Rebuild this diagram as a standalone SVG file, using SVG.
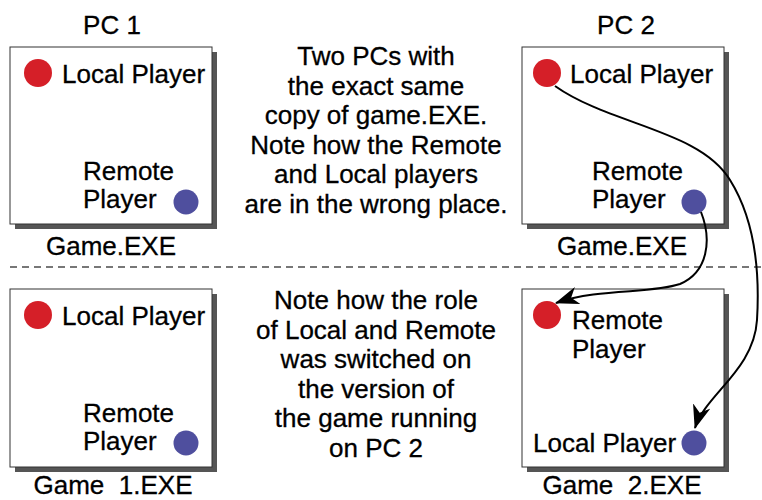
<svg xmlns="http://www.w3.org/2000/svg" width="762" height="500" viewBox="0 0 762 500">
  <style>
    text { font-family: "Liberation Sans", Arial, sans-serif; font-size: 26px; fill: #000; stroke: #000; stroke-width: 0.3; }
    .mid { text-anchor: middle; }
    .pre { white-space: pre; }
    .shadow { fill: #555; }
    .box { fill: #fff; stroke: #333; stroke-width: 1; }
    .red { fill: #d51f28; }
    .blue { fill: #4f4f9e; }
    .divider { stroke: #777; stroke-width: 2; stroke-dasharray: 7 5; fill: none; }
    .link { fill: none; stroke: #000; stroke-width: 2; }
  </style>
  <defs>
    <marker id="arrow" viewBox="0 0 24 18" refX="23" refY="9" markerWidth="24" markerHeight="18" markerUnits="userSpaceOnUse" orient="auto">
      <path d="M24,9 L0,0 L7,9 L0,18 Z" fill="#000"/>
    </marker>
  </defs>

  <rect width="762" height="500" fill="#fff"/>

  <!-- column headings -->
  <text class="mid" x="112" y="34">PC 1</text>
  <text class="mid" x="626" y="34">PC 2</text>

  <!-- PC 1, original executable -->
  <g id="pc1-game">
    <rect class="shadow" x="15" y="52" width="202" height="177"/>
    <rect class="box" x="10" y="47" width="202" height="177"/>
    <circle class="red" cx="38" cy="73" r="14"/>
    <text x="62" y="83">Local Player</text>
    <text x="83" y="180">Remote</text>
    <text x="83" y="208">Player</text>
    <circle class="blue" cx="186" cy="202" r="12.5"/>
    <text class="mid" x="111" y="255">Game.EXE</text>
  </g>

  <!-- PC 2, original executable -->
  <g id="pc2-game">
    <rect class="shadow" x="527" y="52" width="202" height="177"/>
    <rect class="box" x="522" y="47" width="202" height="177"/>
    <circle id="pc2-local" class="red" cx="547" cy="73" r="14"/>
    <text x="570" y="83">Local Player</text>
    <text x="592" y="180">Remote</text>
    <text x="592" y="208">Player</text>
    <circle id="pc2-remote" class="blue" cx="694" cy="202" r="12.5"/>
    <text class="mid" x="622" y="255">Game.EXE</text>
  </g>

  <!-- upper explanation -->
  <g id="note-top">
    <text class="mid" x="376" y="65">Two PCs with</text>
    <text class="mid" x="376" y="95">the exact same</text>
    <text class="mid" x="376" y="124">copy of game.EXE.</text>
    <text class="mid" x="376" y="154">Note how the Remote</text>
    <text class="mid" x="376" y="183">and Local players</text>
    <text class="mid" x="376" y="213">are in the wrong place.</text>
  </g>

  <line class="divider" x1="10" y1="267" x2="762" y2="267"/>

  <!-- PC 1, corrected executable -->
  <g id="pc1-game1">
    <rect class="shadow" x="15" y="294" width="202" height="178"/>
    <rect class="box" x="10" y="289" width="202" height="178"/>
    <circle class="red" cx="38" cy="315" r="14"/>
    <text x="62" y="325">Local Player</text>
    <text x="83" y="422">Remote</text>
    <text x="83" y="450">Player</text>
    <circle class="blue" cx="186" cy="443" r="12.5"/>
    <text class="mid pre" x="113" y="494">Game  1.EXE</text>
  </g>

  <!-- PC 2, corrected executable -->
  <g id="pc2-game2">
    <rect class="shadow" x="527" y="294" width="202" height="178"/>
    <rect class="box" x="522" y="289" width="202" height="178"/>
    <circle class="red" cx="547" cy="315" r="14"/>
    <text x="572" y="329">Remote</text>
    <text x="572" y="358">Player</text>
    <text x="533" y="452">Local Player</text>
    <circle class="blue" cx="694" cy="443" r="12.5"/>
    <text class="mid pre" x="622" y="494">Game  2.EXE</text>
  </g>

  <!-- lower explanation -->
  <g id="note-bottom">
    <text class="mid" x="376" y="309">Note how the role</text>
    <text class="mid" x="376" y="339">of Local and Remote</text>
    <text class="mid" x="376" y="368">was switched on</text>
    <text class="mid" x="376" y="398">the version of</text>
    <text class="mid" x="376" y="427">the game running</text>
    <text class="mid" x="376" y="457">on PC 2</text>
  </g>

  <!-- role swap connectors -->
  <g id="connectors">
    <path class="link" marker-end="url(#arrow)" d="M701,212 C712,240 708,272 680,284 C650,294 600,288 556,303"/>
    <path class="link" marker-end="url(#arrow)" d="M555,86 C610,125 700,130 730,180 C755,220 760,270 757,320 C754,370 705,395 695,428"/>
  </g>
</svg>
